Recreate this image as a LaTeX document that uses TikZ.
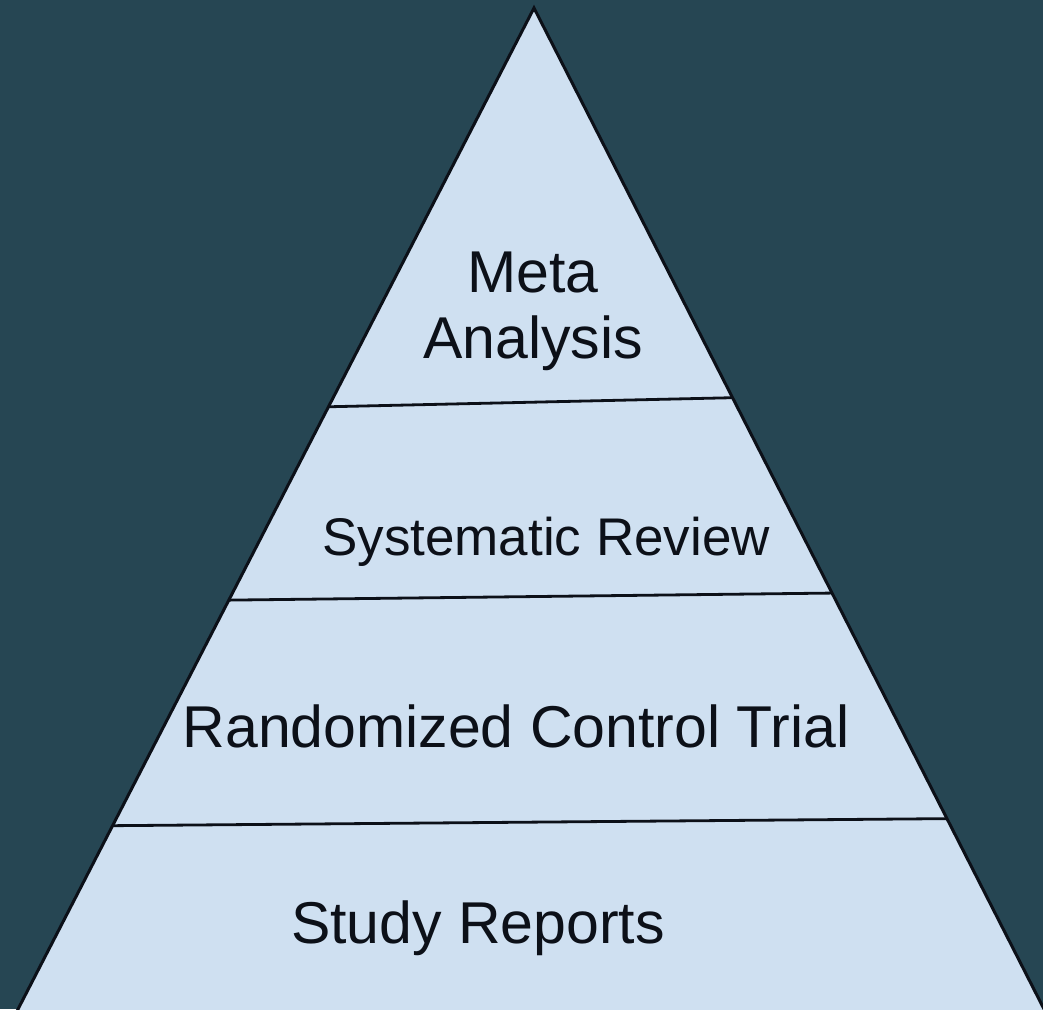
\documentclass[tikz,border=0pt]{standalone}
\usepackage{fontspec}
\setmainfont{Liberation Sans}
\usetikzlibrary{calc}

\definecolor{bgteal}{RGB}{38,70,83}
\definecolor{layerblue}{RGB}{207,224,241}
\definecolor{inkdark}{RGB}{12,16,24}

\tikzset{
  tierlabel/.style={font=\fontsize{59}{66}\selectfont, text=inkdark, align=center, anchor=base, inner sep=0pt},
  divider/.style={draw=inkdark, line width=2.8pt},
}

\begin{document}
\begin{tikzpicture}[x=1pt,y=-1pt]
  \fill[bgteal] (0,0) rectangle (1043,1009);
  \useasboundingbox (0,0) rectangle (1043,1009);

  \coordinate (apex) at (534,8);
  \coordinate (bl) at (15,1015);
  \coordinate (br) at (1047,1015);

  \begin{scope}
    \clip (0,0) rectangle (1043,1009);
    \draw[fill=layerblue, draw=inkdark, line width=3pt] (bl) -- (apex) -- (br) -- cycle;
  \end{scope}

  \foreach \name/\tl/\tr in {one/0.396/0.387, two/0.588/0.581, three/0.812/0.805}{
    \coordinate (\name l) at ($(apex)!\tl!(bl)$);
    \coordinate (\name r) at ($(apex)!\tr!(br)$);
    \draw[divider] (\name l) -- (\name r);
  }

  \node[tierlabel] (meta) at (533,358) {Meta\\Analysis};
  \node[tierlabel, font=\fontsize{53}{60}\selectfont] (review) at (546,555) {Systematic Review};
  \node[tierlabel] (trial) at (516,747) {Randomized Control Trial};
  \node[tierlabel] (reports) at (478,943) {Study Reports};
\end{tikzpicture}
\end{document}
